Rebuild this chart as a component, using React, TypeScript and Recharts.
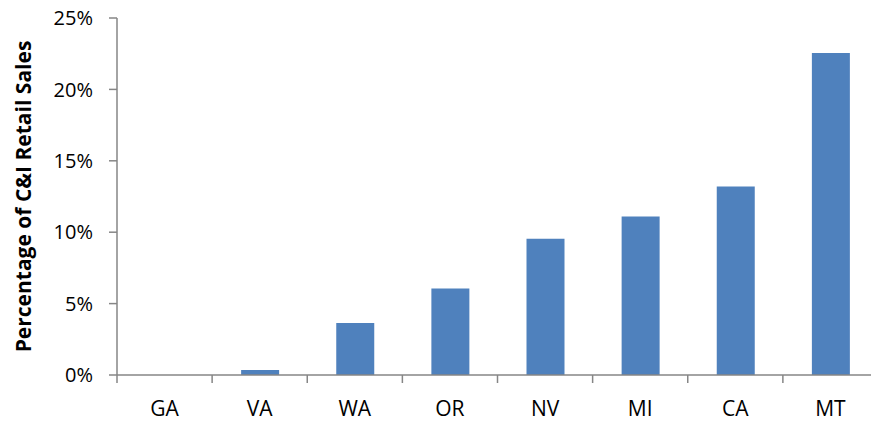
import { BarChart, Bar, XAxis, YAxis } from 'recharts';

const states = ['GA', 'VA', 'WA', 'OR', 'NV', 'MI', 'CA', 'MT'];
const shareOfSales = [0, 0.35, 3.65, 6.05, 9.55, 11.1, 13.2, 22.55];
const yTicks = [0, 5, 10, 15, 20, 25];

const data = states.map((name, i) => ({ name, value: shareOfSales[i] }));

const CHART_W = 880;
const CHART_H = 421;
const MARGIN = { top: 18, right: 2, left: 0, bottom: 0 };
const Y_AXIS_W = 117;
const X_AXIS_H = 46;
const AXIS_Y = CHART_H - MARGIN.bottom - X_AXIS_H;
const BAND = (CHART_W - MARGIN.left - MARGIN.right - Y_AXIS_W) / states.length;
const AXIS_COLOR = '#868686';
const FONT = '"Open Sans", sans-serif';

// category ticks sit on the band edges, labels in the middle
function StateTick(props: any) {
  const { x, payload } = props;
  const edge = x - BAND / 2;
  return (
    <g>
      <line x1={edge} y1={AXIS_Y} x2={edge} y2={AXIS_Y + 8} stroke={AXIS_COLOR} strokeWidth={1.5} />
      <text x={x} y={AXIS_Y + 41} textAnchor="middle" fill="#000" fontSize={21} fontFamily={FONT}>
        {payload.value}
      </text>
    </g>
  );
}

export default function App() {
  return (
    <div style={{ position: 'absolute', left: 0, top: 0, width: 871, height: 421, overflow: 'hidden', background: '#fff' }}>
      <BarChart width={CHART_W} height={CHART_H} data={data} margin={MARGIN} barSize={38}>
        <XAxis
          dataKey="name"
          height={X_AXIS_H}
          axisLine={{ stroke: AXIS_COLOR, strokeWidth: 1.5 }}
          tickLine={false}
          interval={0}
          tick={<StateTick />}
        />
        <YAxis
          width={Y_AXIS_W}
          domain={[0, 25]}
          ticks={yTicks}
          interval={0}
          tickFormatter={(v) => `${v}%`}
          axisLine={{ stroke: AXIS_COLOR, strokeWidth: 1.5 }}
          tickLine={{ stroke: AXIS_COLOR, strokeWidth: 1.5 }}
          tickSize={8}
          tickMargin={16}
          tick={{ fill: '#000', fontSize: 20, fontFamily: FONT }}
          label={{
            value: 'Percentage of C&I Retail Sales',
            angle: -90,
            position: 'insideLeft',
            dx: 19,
            style: { textAnchor: 'middle', fontSize: 21, fontWeight: 'bold', fontFamily: FONT, fill: '#000' },
          }}
        />
        <Bar dataKey="value" fill="#4F81BD" isAnimationActive={false} />
      </BarChart>
    </div>
  );
}
